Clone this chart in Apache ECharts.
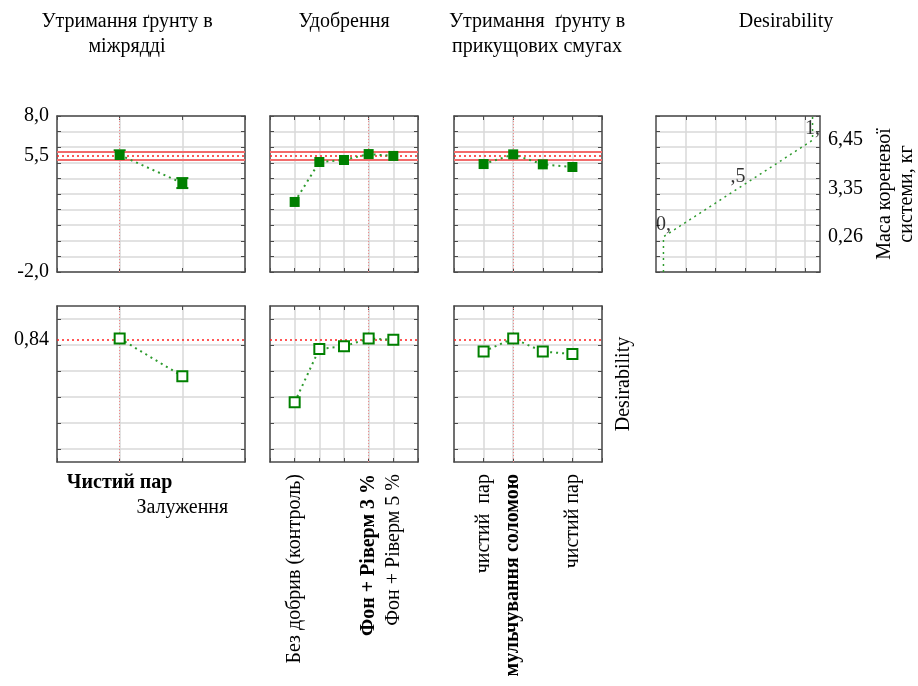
<!DOCTYPE html>
<html><head><meta charset="utf-8">
<script src="https://cdn.jsdelivr.net/npm/echarts@6/dist/echarts.min.js"></script>
<style>html,body{margin:0;padding:0;background:#fff}#c{width:918px;height:686px}</style>
</head><body><div id="c"></div>
<script>
// ---- data ----
const titles = ['Утримання ґрунту в\nміжрядді', 'Удобрення', 'Утримання  ґрунту в\nприкущових смугах', 'Desirability'];
const catsInter = ['Чистий пар', 'Залуження'];
const catsFert = ['Без добрив (контроль)', '', '', 'Фон + Ріверм 3 %', 'Фон + Ріверм 5 %'];
const catsRow = ['чистий  пар', 'мульчування соломою', '', 'чистий пар'];
const massInter = [5.50, 3.70];
const massInterLow = [5.18, 3.38];
const massInterHigh = [5.80, 4.02];
const massFert = [2.49, 5.05, 5.18, 5.56, 5.44];
const massRow = [4.92, 5.54, 4.90, 4.73];
const desInter = [0.85, 0.56];
const desFert = [0.36, 0.77, 0.79, 0.85, 0.84];
const desRow = [0.75, 0.85, 0.75, 0.73];
const optIndex = [0, 3, 1];
const massOpt = 5.47;
const massCI = [5.22, 5.72];
const desOpt = 0.84;
const massTickLabels = [-2.0, 5.47, 8.0];
const desTickLabels = [0.84];
const desGridTicks = [0, 0.2, 0.4, 0.6, 0.8, 1.0];
const desFnGridTicks = [0.15, 0.35, 0.55, 0.75, 0.95];
const desFnX = [0, 0, 0.5, 1, 1];
const desFnY = [-2, 0.26, 3.35, 6.45, 8];
const desFnLabels = ['', '0,', ',5', '1,', ''];
const desFnTicks = [0.26, 3.35, 6.45];
const responseName = 'Маса кореневої\nсистеми, кг';
const desName = 'Desirability';

// ---- layout ----
const FONT = '"Liberation Serif", "Times New Roman", serif';
const FS = 20;
const cols = [{left: 57, width: 188}, {left: 270, width: 148}, {left: 454, width: 148}, {left: 656, width: 164}];
const rows = [{top: 116, height: 156}, {top: 306, height: 156}];
const titleX = [127, 344, 537, 786];

const cats = [catsInter, catsFert, catsRow];
const massVals = [massInter, massFert, massRow];
const desVals = [desInter, desFert, desRow];

const GREEN = '#008000';
const FRAME = '#4a4a4a';
const GRID = '#d9d9d9';

const grids = [], xAxes = [], yAxes = [], series = [];

function fmt(v, d) { return v.toFixed(d).replace('.', ','); }

function baseAxis(extra) {
  return Object.assign({
    axisLine: {show: true, onZero: false, lineStyle: {color: FRAME, width: 1.5}},
    axisTick: {show: true, inside: true, length: 4, lineStyle: {color: FRAME, width: 1}},
    splitLine: {show: false},
    axisLabel: {show: false},
    silent: true
  }, extra);
}

let gi = 0;
function addGrid(r, c) {
  grids.push({left: cols[c].left, top: rows[r].top, width: cols[c].width, height: rows[r].height,
    containLabel: false, outerBoundsMode: 'none'});
  return gi++;
}

// top row: panels 0..2 (response)
for (let c = 0; c < 3; c++) {
  const g = addGrid(0, c);
  const n = cats[c].length;
  xAxes.push(baseAxis({type: 'value', gridIndex: g, position: 'bottom', min: 0, max: n + 1, interval: 1,
    splitLine: {show: true, lineStyle: {color: GRID, width: 1.5}}}));
  xAxes.push(baseAxis({type: 'value', gridIndex: g, position: 'top', min: 0, max: n + 1, interval: 1}));
  const yl = {type: 'value', gridIndex: g, position: 'left', min: -2, max: 8, interval: 1,
    splitLine: {show: true, lineStyle: {color: GRID, width: 1.5}}};
  if (c === 0) {
    yl.axisLabel = {show: true, customValues: massTickLabels, formatter: v => fmt(v, 1),
      fontFamily: FONT, fontSize: FS, color: '#000', margin: 8, padding: [3, 0, 0, 0]};
  }
  yAxes.push(baseAxis(yl));
  yAxes.push(baseAxis({type: 'value', gridIndex: g, position: 'right', min: -2, max: 8, interval: 1}));
  const ax = 2 * g;
  series.push({
    type: 'line', xAxisIndex: ax, yAxisIndex: ax,
    data: massVals[c].map((v, i) => [i + 1, v]),
    symbol: 'rect', symbolSize: 10, itemStyle: {color: GREEN},
    lineStyle: {color: '#2e9b2e', width: 2, type: [2, 4]},
    z: 5, silent: true,
    markLine: {
      silent: true, symbol: 'none', label: {show: false}, animation: false,
      data: [
        {xAxis: optIndex[c] + 1, lineStyle: {color: '#f08a8a', width: 1, type: [1, 2]}},
        {yAxis: massCI[0], lineStyle: {color: '#f26b6b', width: 2, type: 'solid'}},
        {yAxis: massCI[1], lineStyle: {color: '#f26b6b', width: 2, type: 'solid'}},
        {yAxis: massOpt, lineStyle: {color: '#ff2020', width: 1.5, type: [2, 3]}}
      ]
    }
  });
  if (c === 0) {
    series.push({
      type: 'custom', xAxisIndex: ax, yAxisIndex: ax, z: 4, silent: true,
      data: massInter.map((v, i) => [i + 1, massInterLow[i], massInterHigh[i]]),
      renderItem: function (params, api) {
        const x = api.value(0);
        const p1 = api.coord([x, api.value(1)]);
        const p2 = api.coord([x, api.value(2)]);
        const st = {stroke: GREEN, lineWidth: 2};
        return {type: 'group', children: [
          {type: 'line', shape: {x1: p1[0], y1: p1[1], x2: p2[0], y2: p2[1]}, style: st},
          {type: 'line', shape: {x1: p1[0] - 6, y1: p1[1], x2: p1[0] + 6, y2: p1[1]}, style: st},
          {type: 'line', shape: {x1: p2[0] - 6, y1: p2[1], x2: p2[0] + 6, y2: p2[1]}, style: st}
        ]};
      }
    });
  }
}

// top row panel 3: desirability function
{
  const g = addGrid(0, 3);
  xAxes.push(baseAxis({type: 'value', gridIndex: g, position: 'bottom', min: -0.05, max: 1.05,
    axisTick: {show: true, inside: true, length: 4, customValues: desFnGridTicks, lineStyle: {color: FRAME}},
    splitLine: {show: true, lineStyle: {color: GRID, width: 1.5}}}));
  xAxes.push(baseAxis({type: 'value', gridIndex: g, position: 'top', min: -0.05, max: 1.05,
    axisTick: {show: true, inside: true, length: 4, customValues: desFnGridTicks, lineStyle: {color: FRAME}}}));
  yAxes.push(baseAxis({type: 'value', gridIndex: g, position: 'left', min: -2, max: 8, interval: 1,
    splitLine: {show: true, lineStyle: {color: GRID, width: 1.5}}}));
  yAxes.push(baseAxis({type: 'value', gridIndex: g, position: 'right', min: -2, max: 8, interval: 1,
    axisLabel: {show: true, customValues: desFnTicks, formatter: v => fmt(v, 2),
      fontFamily: FONT, fontSize: FS, color: '#000', margin: 8},
    name: responseName, nameLocation: 'middle', nameRotate: 90, nameGap: 54,
    nameTextStyle: {fontFamily: FONT, fontSize: FS, color: '#000', lineHeight: 22}}));
  const ax = 2 * g;
  series.push({
    type: 'line', xAxisIndex: ax, yAxisIndex: ax, silent: true,
    data: desFnX.map((x, i) => [x, desFnY[i]]),
    showSymbol: false, symbol: 'none',
    lineStyle: {color: '#2e9b2e', width: 1.5, type: [2, 4]}
  });
  series.push({
    type: 'scatter', xAxisIndex: ax, yAxisIndex: ax, silent: true,
    data: desFnX.map((x, i) => [x, desFnY[i], desFnLabels[i]]),
    symbolSize: 1, itemStyle: {color: 'rgba(0,0,0,0)'},
    label: {show: true, position: 'top', distance: 1, formatter: p => p.value[2],
      fontFamily: FONT, fontSize: FS, color: '#000'}
  });
}

// bottom row: desirability per factor
for (let c = 0; c < 3; c++) {
  const g = addGrid(1, c);
  const n = cats[c].length;
  const rotated = c > 0;
  const lab = {
    show: true, fontFamily: FONT, fontSize: FS, color: '#000', margin: rotated ? 12 : 11,
    rotate: rotated ? 90 : 0,
    formatter: function (v) {
      const i = Math.round(v) - 1;
      if (i < 0 || i >= n || !cats[c][i]) return '';
      const bold = i === optIndex[c];
      const stag = !rotated && i % 2 === 1;
      return '{' + (bold ? 'b' : (stag ? 's' : 'n')) + '|' + cats[c][i] + '}';
    },
    rich: {
      b: {fontFamily: FONT, fontSize: FS, fontWeight: 'bold', color: '#000'},
      n: {fontFamily: FONT, fontSize: FS, color: '#000'},
      s: {fontFamily: FONT, fontSize: FS, color: '#000', padding: [25, 0, 0, 0]}
    }
  };
  xAxes.push(baseAxis({type: 'value', gridIndex: g, position: 'bottom', min: 0, max: n + 1, interval: 1,
    splitLine: {show: true, lineStyle: {color: GRID, width: 1.5}}, axisLabel: lab}));
  xAxes.push(baseAxis({type: 'value', gridIndex: g, position: 'top', min: 0, max: n + 1, interval: 1}));
  const yl = {type: 'value', gridIndex: g, position: 'left', min: -0.1, max: 1.1,
    axisTick: {show: true, inside: true, length: 4, customValues: desGridTicks, lineStyle: {color: FRAME}},
    splitLine: {show: true, lineStyle: {color: GRID, width: 1.5}}};
  if (c === 0) {
    yl.axisLabel = {show: true, customValues: desTickLabels, formatter: v => fmt(v, 2),
      fontFamily: FONT, fontSize: FS, color: '#000', margin: 8};
  }
  yAxes.push(baseAxis(yl));
  const yr = {type: 'value', gridIndex: g, position: 'right', min: -0.1, max: 1.1,
    axisTick: {show: true, inside: true, length: 4, customValues: desGridTicks, lineStyle: {color: FRAME}}};
  if (c === 2) {
    yr.name = desName; yr.nameLocation = 'middle'; yr.nameRotate = 90; yr.nameGap = 12;
    yr.nameTextStyle = {fontFamily: FONT, fontSize: FS, color: '#000'};
  }
  yAxes.push(baseAxis(yr));
  const ax = 2 * g;
  series.push({
    type: 'line', xAxisIndex: ax, yAxisIndex: ax, silent: true,
    data: desVals[c].map((v, i) => [i + 1, v]),
    symbol: 'emptyRect', symbolSize: 10, itemStyle: {color: GREEN, borderWidth: 1.5},
    lineStyle: {color: '#2e9b2e', width: 2, type: [2, 4]}, z: 5,
    markLine: {
      silent: true, symbol: 'none', label: {show: false}, animation: false,
      data: [
        {xAxis: optIndex[c] + 1, lineStyle: {color: '#f08a8a', width: 1, type: [1, 2]}},
        {yAxis: desOpt, lineStyle: {color: '#ff2020', width: 1.5, type: [2, 3]}}
      ]
    }
  });
}

const graphics = titles.map((t, i) => ({
  type: 'text', x: titleX[i], y: 9, silent: true,
  style: {text: t, fontFamily: FONT, fontSize: FS, fill: '#000', align: 'center', verticalAlign: 'top', lineHeight: 25}
}));

const chart = echarts.init(document.getElementById('c'), null, {renderer: 'canvas'});
chart.setOption({
  animation: false,
  backgroundColor: '#fff',
  grid: grids,
  xAxis: xAxes,
  yAxis: yAxes,
  series: series,
  graphic: graphics
});
</script>
</body></html>
